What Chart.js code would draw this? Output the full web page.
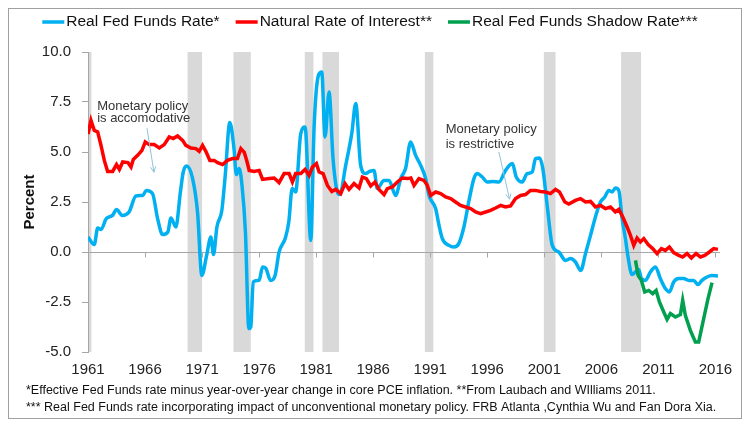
<!DOCTYPE html>
<html>
<head>
<meta charset="utf-8">
<script src="https://cdn.jsdelivr.net/npm/chart.js@4.4.1/dist/chart.umd.min.js"></script>
<style>
  html, body { margin:0; padding:0; background:#fff; }
  #wrap { width:750px; height:429px; }
</style>
</head>
<body>
<div id="wrap"><canvas id="rates" width="750" height="429"></canvas></div>
<script>
// values (year, percent)
const rateYears = [1961.0,1961.55,1961.85,1962.15,1962.6,1963.15,1963.5,1964.0,1964.6,1965.2,1965.8,1966.1,1966.66,1967.1,1967.54,1968.0,1968.27,1968.7,1969.1,1969.35,1969.64,1970.17,1970.6,1970.98,1971.4,1971.77,1972.0,1972.3,1972.73,1973.03,1973.43,1973.8,1974.0,1974.25,1974.5,1974.8,1975.1,1975.27,1975.48,1976.0,1976.3,1976.6,1977.0,1977.4,1977.75,1978.3,1978.6,1978.9,1979.2,1979.65,1980.03,1980.53,1980.82,1981.2,1981.49,1981.78,1982.13,1982.48,1982.86,1983.07,1983.59,1984.12,1984.47,1984.9,1985.34,1985.69,1986.07,1986.36,1986.95,1987.39,1987.97,1988.41,1988.85,1989.28,1989.72,1990.16,1990.6,1990.89,1991.47,1991.77,1992.06,1992.64,1993.08,1993.5,1993.95,1994.4,1994.83,1995.12,1995.56,1996.0,1996.5,1997.02,1997.6,1998.2,1998.54,1999.06,1999.5,1999.94,2000.23,2000.58,2000.87,2001.25,2001.7,2002.27,2002.86,2003.3,2003.73,2004.2,2004.61,2005.05,2005.48,2005.92,2006.3,2006.65,2006.94,2007.23,2007.53,2007.82,2008.11,2008.34,2008.69,2008.99,2009.28,2009.51,2009.86,2010.3,2010.74,2011.17,2011.61,2011.96,2012.34,2012.78,2013.22,2013.66,2014.09,2014.47,2014.82,2015.26,2015.69,2016.22];
const rateValues = [0.75,0.37,1.2,1.13,1.67,1.83,2.12,1.83,2.0,2.8,2.83,3.08,2.92,1.67,0.87,1.0,1.7,1.25,3.0,4.0,4.3,3.67,2.0,-1.17,-0.17,0.75,-0.13,1.25,2.08,3.83,6.47,5.17,3.87,4.17,3.33,1.0,-3.83,-3.75,-1.5,-1.42,-0.75,-0.83,-1.42,-1.17,0.0,0.7,1.5,3.17,3.0,5.92,6.25,0.58,6.25,8.83,9.0,5.75,8.0,4.67,3.0,2.87,4.33,5.92,7.42,4.33,3.92,4.03,4.08,3.17,3.58,3.58,2.83,3.67,4.2,5.5,4.83,4.33,3.67,2.83,2.17,1.33,0.67,0.33,0.25,0.42,1.25,2.58,3.67,3.92,3.75,3.5,3.53,3.5,4.08,4.42,3.75,3.5,3.92,4.0,4.67,4.7,4.17,2.33,0.33,0.0,-0.42,-0.33,-0.5,-0.92,-0.08,0.83,1.75,2.5,2.75,3.08,3.0,3.2,3.08,1.67,0.67,-0.25,-1.13,-1.0,-0.87,-1.33,-1.42,-1.0,-0.75,-1.33,-1.83,-2.0,-1.5,-1.33,-1.33,-1.42,-1.42,-1.63,-1.42,-1.25,-1.17,-1.2];

const naturalYears = [1961.0,1961.12,1961.26,1961.55,1961.85,1962.14,1962.43,1962.72,1963.16,1963.5,1963.75,1964.04,1964.5,1964.77,1964.97,1965.35,1965.73,1966.02,1966.37,1966.8,1967.25,1967.68,1968.12,1968.47,1968.85,1969.29,1969.58,1970.02,1970.46,1970.75,1971.04,1971.33,1971.68,1972.06,1972.36,1972.8,1973.23,1973.67,1974.1,1974.4,1974.7,1974.9,1975.13,1975.56,1976.0,1976.3,1976.88,1977.32,1977.75,1978.19,1978.63,1978.92,1979.2,1979.65,1980.03,1980.38,1980.67,1981.02,1981.26,1981.61,1981.99,1982.37,1982.72,1983.15,1983.53,1983.88,1984.32,1984.76,1985.05,1985.4,1985.78,1986.16,1986.51,1986.95,1987.24,1987.68,1988.12,1988.55,1989.0,1989.3,1989.58,1990.01,1990.45,1990.74,1991.04,1991.47,1991.91,1992.35,1992.79,1993.22,1993.66,1994.1,1994.54,1994.98,1995.41,1995.85,1996.29,1996.73,1997.17,1997.6,1998.04,1998.48,1998.92,1999.35,1999.79,2000.23,2000.67,2001.1,2001.54,2001.98,2002.33,2002.8,2003.15,2003.73,2004.17,2004.61,2005.05,2005.48,2005.92,2006.36,2006.8,2007.23,2007.53,2007.88,2008.26,2008.55,2008.84,2009.13,2009.42,2009.72,2010.1,2010.5,2010.88,2011.26,2011.61,2011.96,2012.34,2012.78,2013.13,2013.51,2013.89,2014.3,2014.68,2015.06,2015.47,2015.85,2016.22];
const naturalValues = [5.9,6.2,6.58,6.08,6.0,5.33,4.58,4.03,4.03,4.37,4.13,4.5,4.47,4.25,4.63,4.83,5.08,5.5,5.37,5.37,5.2,5.37,5.75,5.67,5.8,5.58,5.33,5.2,5.17,5.03,5.33,5.03,4.58,4.58,4.47,4.37,4.58,4.67,4.67,5.17,4.98,4.6,4.08,4.03,4.08,3.63,3.67,3.7,3.47,3.92,3.92,3.5,3.92,3.92,4.13,3.83,4.25,4.42,4.0,3.92,3.33,3.03,3.13,2.92,3.42,3.13,3.42,3.2,3.75,3.67,3.3,3.5,3.13,2.87,3.17,3.25,3.5,3.7,3.67,3.7,3.33,3.67,3.58,3.33,2.83,3.0,2.92,2.75,2.67,2.5,2.33,2.25,2.17,2.0,1.92,2.0,2.08,2.2,2.33,2.25,2.3,2.67,2.83,2.87,3.08,3.08,3.03,3.0,2.92,3.13,3.0,2.5,2.4,2.58,2.67,2.5,2.53,2.25,2.33,2.17,2.25,2.0,2.13,1.75,1.25,0.83,0.33,0.7,0.5,0.67,0.37,0.17,-0.08,0.17,0.08,0.25,-0.03,-0.17,-0.25,-0.08,-0.3,-0.08,-0.25,-0.17,0.0,0.17,0.13];

const shadowYears = [2008.99,2009.22,2009.51,2009.8,2010.15,2010.5,2010.8,2011.09,2011.47,2011.76,2012.05,2012.49,2012.93,2013.13,2013.36,2013.8,2014.24,2014.53,2014.97,2015.35,2015.7];
const shadowValues = [-0.42,-1.17,-1.42,-2.0,-1.92,-2.08,-1.92,-2.5,-3.0,-3.37,-3.08,-3.25,-3.13,-2.42,-3.17,-3.92,-4.5,-4.5,-3.33,-2.33,-1.53];

const recessionStart = [1961.0,1969.73,1973.75,1980.0,1981.55,1990.53,2000.96,2007.73];
const recessionEnd   = [1961.3,1971.0,1975.27,1980.76,1983.0,1991.27,2001.98,2009.48];

const yearTicks = [1961,1966,1971,1976,1981,1986,1991,1996,2001,2006,2011,2016];
const percentTicks = [-5,-2.5,0,2.5,5,7.5,10];

const seriesNames = ['Real Fed Funds Rate*','Natural Rate of Interest**','Real Fed Funds Shadow Rate***'];
const footnotes = [
  '*Effective Fed Funds rate minus year-over-year change in core PCE inflation. **From Laubach and WIlliams 2011.',
  '*** Real Fed Funds rate incorporating impact of unconventional monetary policy. FRB Atlanta ,Cynthia Wu and Fan Dora Xia.'
];

const FONT = "'Liberation Sans', Arial, sans-serif";
const pts = (xs, ys) => xs.map((x, i) => ({ x, y: ys[i] }));

const decor = {
  id: 'decor',
  beforeDraw(chart) {
    const { ctx, chartArea: a, scales: { x } } = chart;
    ctx.save();
    ctx.fillStyle = '#fff';
    ctx.fillRect(0, 0, chart.width, chart.height);
    ctx.fillStyle = '#d9d9d9';
    recessionStart.forEach((s, i) => {
      const x1 = x.getPixelForValue(s), x2 = x.getPixelForValue(recessionEnd[i]);
      ctx.fillRect(x1, a.top, x2 - x1, a.bottom - a.top);
    });
    ctx.restore();
  },
  beforeDatasetsDraw(chart) {
    // little tick marks hanging from the zero line
    const { ctx, scales: { x, y } } = chart;
    const y0 = Math.round(y.getPixelForValue(0)) + 0.5;
    ctx.save();
    ctx.strokeStyle = '#a6a6a6';
    ctx.lineWidth = 1;
    x.ticks.forEach(t => {
      const px = Math.round(x.getPixelForValue(t.value)) + 0.5;
      ctx.beginPath(); ctx.moveTo(px, y0); ctx.lineTo(px, y0 + 5); ctx.stroke();
    });
    ctx.restore();
  },
  afterDraw(chart) {
    const { ctx, scales: { x, y } } = chart;
    ctx.save();

    // legend
    ctx.font = '15.5px ' + FONT;
    ctx.textBaseline = 'middle';
    const items = chart.data.datasets.map(d => ({ label: d.label, color: d.borderColor, w: ctx.measureText(d.label).width }));
    const lineLen = 22, gap = 2, itemGap = 16;
    const total = items.reduce((s, it) => s + lineLen + gap + it.w, 0) + itemGap * (items.length - 1);
    let lx = 370 - total / 2;
    items.forEach(it => {
      ctx.strokeStyle = it.color; ctx.lineWidth = 3.5;
      ctx.beginPath(); ctx.moveTo(lx, 22); ctx.lineTo(lx + lineLen, 22); ctx.stroke();
      ctx.fillStyle = '#111';
      ctx.textAlign = 'left';
      ctx.fillText(it.label, lx + lineLen + gap, 22);
      lx += lineLen + gap + it.w + itemGap;
    });

    // annotations
    const note = (lines, yr, v1, v2, from, to) => {
      ctx.font = '13px ' + FONT;
      ctx.fillStyle = '#333';
      ctx.textAlign = 'left';
      ctx.fillText(lines[0], x.getPixelForValue(yr), y.getPixelForValue(v1));
      ctx.fillText(lines[1], x.getPixelForValue(yr), y.getPixelForValue(v2));
      const ax = x.getPixelForValue(from[0]), ay = y.getPixelForValue(from[1]);
      const bx = x.getPixelForValue(to[0]), by = y.getPixelForValue(to[1]);
      ctx.strokeStyle = '#8ec5d8'; ctx.lineWidth = 1;
      ctx.beginPath(); ctx.moveTo(ax, ay); ctx.lineTo(bx, by); ctx.stroke();
      const ang = Math.atan2(by - ay, bx - ax), h = 6;
      ctx.beginPath();
      ctx.moveTo(bx - h * Math.cos(ang - 0.45), by - h * Math.sin(ang - 0.45));
      ctx.lineTo(bx, by);
      ctx.lineTo(bx - h * Math.cos(ang + 0.45), by - h * Math.sin(ang + 0.45));
      ctx.stroke();
    };
    note(['Monetary policy', 'is accomodative'], 1961.8, 7.29, 6.69, [1966.17, 6.19], [1966.78, 3.99]);
    note(['Monetary policy', 'is restrictive'], 1992.35, 6.14, 5.39, [1997.02, 5.0], [1997.95, 2.64]);

    // footnotes
    ctx.font = '12.5px ' + FONT;
    ctx.fillStyle = '#111';
    ctx.textAlign = 'left';
    ctx.fillText(footnotes[0], 26, 391);
    ctx.fillText(footnotes[1], 26, 408);

    // frame
    ctx.strokeStyle = '#a0a0a0'; ctx.lineWidth = 1;
    ctx.strokeRect(8.5, 8.5, 733, 410);
    ctx.restore();
  }
};

new Chart(document.getElementById('rates'), {
  type: 'line',
  data: {
    datasets: [
      { label: seriesNames[0], data: pts(rateYears, rateValues), borderColor: '#00b0f0', borderWidth: 3.5, pointRadius: 0, cubicInterpolationMode: 'monotone', order: 3 },
      { label: seriesNames[1], data: pts(naturalYears, naturalValues), borderColor: '#ff0000', borderWidth: 3.5, pointRadius: 0, tension: 0, order: 2 },
      { label: seriesNames[2], data: pts(shadowYears, shadowValues), borderColor: '#00a04e', borderWidth: 3.5, pointRadius: 0, tension: 0, order: 1 }
    ]
  },
  options: {
    responsive: false,
    animation: false,
    devicePixelRatio: 1,
    layout: { padding: { top: 52, left: 0, right: 30, bottom: 0 } },
    plugins: { legend: { display: false }, tooltip: { enabled: false } },
    scales: {
      x: {
        type: 'linear', min: 1961, max: 2016.4,
        afterBuildTicks: s => { s.ticks = yearTicks.map(v => ({ value: v })); },
        afterFit: s => { s.height = 77; },
        grid: { display: false },
        border: { display: false },
        ticks: { font: { family: FONT, size: 15 }, color: '#222', padding: 1, maxRotation: 0, autoSkip: false, callback: v => String(v) }
      },
      y: {
        min: -5, max: 10,
        afterBuildTicks: s => { s.ticks = percentTicks.map(v => ({ value: v })); },
        afterFit: s => { s.width = 88; },
        grid: { color: c => (c.tick && c.tick.value === 0 ? '#a6a6a6' : 'rgba(0,0,0,0)'), tickColor: '#a6a6a6', tickLength: 6, lineWidth: 1 },
        border: { color: '#a6a6a6', width: 1 },
        ticks: { font: { family: FONT, size: 15 }, color: '#222', padding: 11, callback: v => Number(v).toFixed(1) },
        title: { display: true, text: 'Percent', font: { family: FONT, size: 15, weight: 'bold' }, color: '#111', padding: { top: 21, bottom: 0 } }
      }
    }
  },
  plugins: [decor]
});
</script>
</body>
</html>
